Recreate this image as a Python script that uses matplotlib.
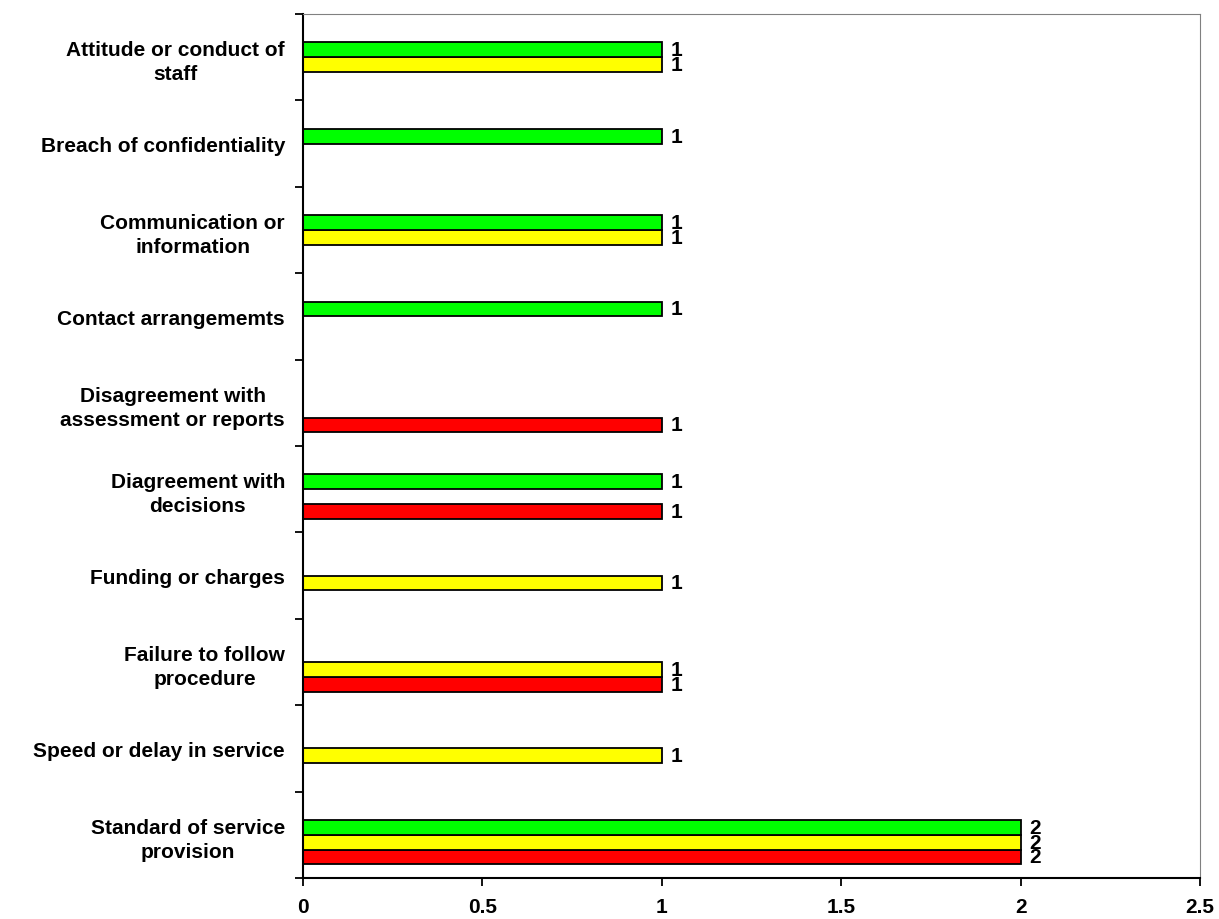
import numpy as np
import matplotlib.pyplot as plt

plt.rcParams['font.family'] = ['Liberation Sans', 'DejaVu Sans']

categories = ["Standard of service\nprovision",
              "Speed or delay in service",
              "Failure to follow\nprocedure",
              "Funding or charges",
              "Diagreement with\ndecisions",
              "Disagreement with\nassessment or reports",
              "Contact arrangememts",
              "Communication or\ninformation",
              "Breach of confidentiality",
              "Attitude or conduct of\nstaff"]

red_vals = [2, 0, 1, 0, 1, 1, 0, 0, 0, 0]
yellow_vals = [2, 1, 1, 1, 0, 0, 0, 1, 0, 1]
green_vals = [2, 0, 0, 0, 1, 0, 1, 1, 1, 1]
series_colors = ["#ff0000", "#ffff00", "#00ff00"]

fig = plt.figure(figsize=(12.19, 9.2), dpi=100)
ax = fig.add_axes([0.2486, 0.0446, 0.9844 - 0.2486, 0.9837 - 0.0446])

y = np.arange(len(categories))
h = 0.171
# four slots per category, the top one is an empty series
offsets = [-1.5 * h, -0.5 * h, 0.5 * h]
for vals, col, off in zip([red_vals, yellow_vals, green_vals], series_colors, offsets):
    for i, v in enumerate(vals):
        if v == 0:
            continue
        ax.barh(y[i] + off, v, height=h, color=col, edgecolor='black', linewidth=1.3)
        ax.text(v + 0.025, y[i] + off, str(v), va='center', ha='left',
                fontsize=15, fontweight='bold')

ax.set_xlim(0, 2.5)
ax.set_ylim(-0.5, len(categories) - 0.5)
ax.set_xticks([0, 0.5, 1, 1.5, 2, 2.5])
ax.set_xticklabels(['0', '0.5', '1', '1.5', '2', '2.5'], fontsize=15, fontweight='bold')
ax.set_yticks(y)
ax.set_yticklabels(categories, fontsize=15, fontweight='bold', linespacing=1.35,
                   ha='right', multialignment='center')
ax.set_yticks(np.arange(-0.5, len(categories), 1), minor=True)
ax.tick_params(axis='y', which='major', length=0, pad=13)
ax.tick_params(axis='y', which='minor', length=6, width=1.3, direction='out')
ax.tick_params(axis='x', length=6, width=1.3, direction='out', pad=8)

ax.spines['left'].set_linewidth(1.5)
ax.spines['bottom'].set_linewidth(1.5)
ax.spines['top'].set_color('#808080')
ax.spines['right'].set_color('#808080')

fig.savefig('out.png', dpi=100)
